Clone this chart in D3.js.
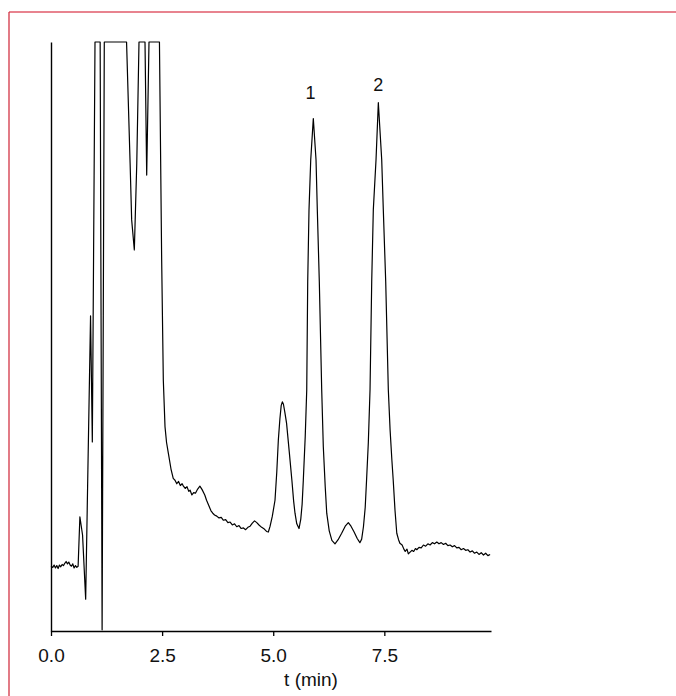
<!DOCTYPE html>
<html>
<head>
<meta charset="utf-8">
<script src="https://cdn.jsdelivr.net/npm/d3@7"></script>
<style>
  html, body { margin: 0; padding: 0; background: #fff; }
  svg text { font-family: "Liberation Sans", Arial, Helvetica, sans-serif; fill: #111; }
</style>
</head>
<body>
<div id="chart-area"></div>
<script>
// retention time (min) and detector signal (arbitrary units, 100 = off scale)
const time = [
  0.00, 0.04, 0.07, 0.10, 0.13, 0.16, 0.19, 0.22, 0.25, 0.28,
  0.31, 0.34, 0.37, 0.40, 0.43, 0.46, 0.49, 0.52, 0.55, 0.58,
  0.61, 0.65, 0.71, 0.78, 0.89, 0.93, 0.99, 1.106, 1.15, 1.199,
  1.70, 1.78, 1.815, 1.875, 1.93, 1.98, 2.115, 2.153, 2.205, 2.44,
  2.49, 2.527, 2.565, 2.60, 2.64, 2.70, 2.75, 2.79, 2.83, 2.87,
  2.91, 2.95, 2.98, 3.02, 3.06, 3.10, 3.13, 3.17, 3.21, 3.25,
  3.30, 3.35, 3.40, 3.46, 3.50, 3.55, 3.60, 3.64, 3.68, 3.73,
  3.78, 3.83, 3.88, 3.93, 3.98, 4.03, 4.08, 4.13, 4.18, 4.23,
  4.28, 4.33, 4.38, 4.43, 4.48, 4.53, 4.58, 4.63, 4.68, 4.74,
  4.80, 4.85, 4.89, 4.93, 4.98, 5.04, 5.08, 5.115, 5.15, 5.18,
  5.205, 5.23, 5.26, 5.30, 5.36, 5.42, 5.46, 5.49, 5.53, 5.58,
  5.62, 5.65, 5.677, 5.72, 5.754, 5.776, 5.805, 5.844, 5.902, 5.963,
  5.992, 6.037, 6.091, 6.127, 6.17, 6.204, 6.26, 6.32, 6.39, 6.46,
  6.54, 6.62, 6.69, 6.75, 6.82, 6.89, 6.95, 6.99, 7.03, 7.07,
  7.10, 7.14, 7.178, 7.216, 7.252, 7.313, 7.365, 7.441, 7.477, 7.531,
  7.59, 7.63, 7.67, 7.70, 7.74, 7.78, 7.82, 7.85, 7.90, 7.94,
  7.97, 8.01, 8.04, 8.08, 8.12, 8.16, 8.20, 8.23, 8.28, 8.33,
  8.38, 8.43, 8.48, 8.53, 8.58, 8.63, 8.68, 8.73, 8.78, 8.83,
  8.88, 8.93, 8.98, 9.03, 9.08, 9.13, 9.18, 9.23, 9.28, 9.33,
  9.38, 9.43, 9.48, 9.53, 9.58, 9.63, 9.68, 9.73, 9.78, 9.83,
  9.88
];
const signal = [
  11.0, 10.8, 11.2, 10.7, 11.1, 10.6, 11.2, 10.9, 11.3, 11.1,
  11.5, 11.8, 11.4, 11.7, 11.2, 11.0, 11.4, 10.7, 11.1, 10.8,
  11.0, 19.4, 16.3, 5.4, 53.5, 32.1, 100, 100, 0.2, 100,
  100, 79.4, 69.8, 64.7, 79.4, 100, 100, 77.4, 100, 100,
  63.0, 42.6, 34.7, 32.0, 30.2, 27.5, 25.9, 25.6, 25.0, 25.4,
  24.7, 25.0, 24.6, 24.2, 24.5, 23.7, 23.9, 23.1, 23.5, 23.4,
  24.1, 24.6, 24.0, 23.1, 22.2, 21.3, 20.4, 20.0, 19.7, 19.5,
  19.2, 19.3, 18.8, 18.9, 18.4, 18.5, 18.0, 18.2, 17.7, 17.9,
  17.4, 17.5, 17.2, 17.6, 17.8, 18.3, 18.7, 18.4, 18.0, 17.6,
  17.3, 16.9, 16.8, 17.8, 19.5, 22.2, 27.0, 32.4, 36.0, 38.3,
  38.9, 38.5, 37.2, 35.3, 30.5, 25.6, 22.0, 20.0, 18.2, 17.4,
  19.0, 21.5, 25.6, 33.0, 40.9, 59.3, 71.5, 80.0, 87.0, 80.0,
  71.5, 59.3, 40.9, 31.3, 24.5, 20.0, 17.0, 15.4, 14.8, 15.5,
  16.6, 17.8, 18.4, 17.8, 16.8, 15.7, 15.0, 15.6, 17.7, 21.0,
  25.6, 32.0, 40.9, 59.3, 71.5, 80.0, 89.7, 80.0, 71.5, 59.3,
  40.9, 34.1, 29.0, 25.6, 20.5, 16.6, 15.5, 14.9, 14.6, 13.9,
  13.5, 13.9, 13.1, 13.4, 13.7, 13.5, 14.0, 13.8, 14.2, 14.1,
  14.6, 14.4, 14.8, 14.6, 15.0, 14.8, 15.1, 14.8, 15.0, 14.7,
  14.9, 14.5, 14.6, 14.3, 14.5, 14.1, 14.2, 13.8, 14.0, 13.7,
  13.8, 13.4, 13.6, 13.2, 13.4, 13.0, 13.3, 12.9, 13.2, 12.8,
  13.0
];
const xTicks = [0, 2.5, 5.0, 7.5];
const peakLabels = ["1", "2"];
const peakLabelTime = [5.84, 7.365];
const peakLabelValue = [90.3, 91.7];

const width = 676, height = 696;
const svg = d3.select('#chart-area').append('svg')
  .attr('width', width).attr('height', height);

// page frame edges
svg.append('line').attr('x1', 9).attr('x2', width).attr('y1', 12).attr('y2', 12)
  .attr('stroke', '#e8838f').attr('stroke-width', 2);
svg.append('line').attr('x1', 9).attr('x2', 9).attr('y1', 12).attr('y2', height)
  .attr('stroke', '#d33344').attr('stroke-width', 1.3);

const x = d3.scaleLinear().domain([0, 9.9]).range([51, 491]);
const y = d3.scaleLinear().domain([0, 100]).range([631, 42]);

const points = time.map((t, i) => [t, signal[i]]);

svg.append('path')
  .datum(points)
  .attr('fill', 'none')
  .attr('stroke', '#000')
  .attr('stroke-width', 1.2)
  .attr('stroke-linejoin', 'round')
  .attr('d', d3.line().x(d => x(d[0])).y(d => y(d[1])));

const xAxis = svg.append('g')
  .attr('transform', `translate(0,${y(0)})`)
  .call(d3.axisBottom(x).tickValues(xTicks).tickFormat(d3.format('.1f'))
    .tickSize(5).tickSizeOuter(0));
xAxis.select('.domain').attr('stroke', '#000').attr('stroke-width', 1.4);
xAxis.selectAll('.tick line').attr('stroke', '#000').attr('stroke-width', 1.3);
xAxis.selectAll('.tick text')
  .attr('y', 31).attr('dy', 0)
  .style('font-size', '19px').style('font-family', '"Liberation Sans", Arial, sans-serif')
  .attr('fill', '#111');

const yAxis = svg.append('g')
  .attr('transform', `translate(${x(0)},0)`)
  .call(d3.axisLeft(y).ticks(0).tickSizeOuter(0));
yAxis.select('.domain').attr('stroke', '#000').attr('stroke-width', 1.4);

svg.append('text')
  .attr('x', 311).attr('y', 686)
  .attr('text-anchor', 'middle')
  .style('font-size', '19px')
  .text('t (min)');

svg.selectAll('.peak-label')
  .data(peakLabels)
  .enter()
  .append('text')
  .attr('class', 'peak-label')
  .attr('x', (d, i) => x(peakLabelTime[i]))
  .attr('y', (d, i) => y(peakLabelValue[i]))
  .attr('text-anchor', 'middle')
  .style('font-size', '18px')
  .text(d => d);
</script>
</body>
</html>
